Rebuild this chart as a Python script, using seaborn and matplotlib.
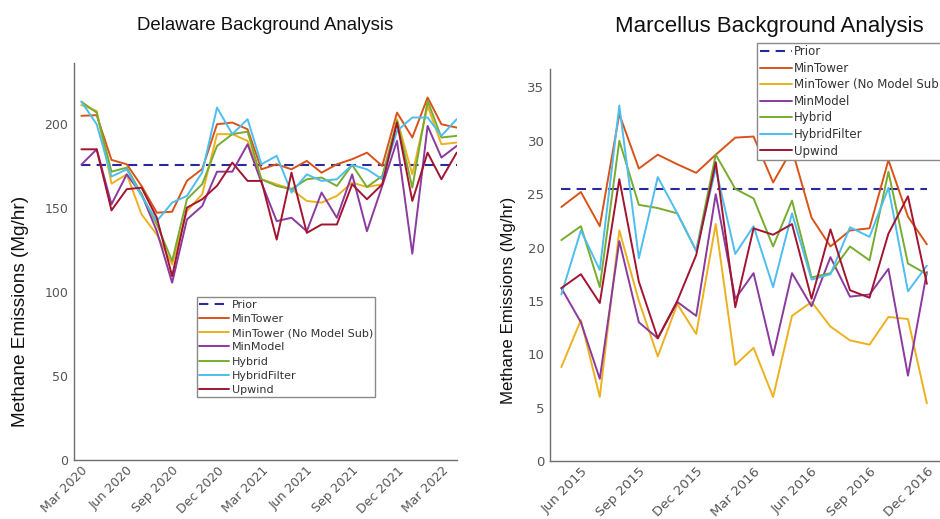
import matplotlib
matplotlib.use("Agg")
import matplotlib.pyplot as plt
import matplotlib.dates as mdates
import pandas as pd
import seaborn as sns

# ---- series definitions ----
series_names = ["MinTower", "MinTower (No Model Sub)", "MinModel",
                "Hybrid", "HybridFilter", "Upwind"]
series_colors = ["#D95319", "#EDB120", "#8B3A9E", "#77AC30", "#4DBEEE", "#A2142F"]
prior_color = "#2A2A9C"

# ---- Delaware basin (monthly, Mar 2020 - Apr 2022), Mg/hr ----
del_months = pd.date_range("2020-03-01", "2022-04-01", freq="MS")
del_prior = 175.6
del_mintower = [204.6, 205.0, 178.4, 175.8, 162.9, 147.0, 147.6, 166.0, 173.0, 199.6,
                200.6, 196.6, 172.8, 175.8, 172.8, 177.8, 170.8, 175.8, 178.8, 182.7,
                174.8, 206.5, 191.7, 215.5, 199.6, 197.6]
del_nomodel = [211.0, 207.5, 164.3, 169.8, 146.0, 134.0, 116.3, 148.0, 158.0, 193.7,
               193.7, 189.7, 166.9, 163.9, 161.0, 154.0, 153.0, 157.0, 164.9, 162.3,
               163.9, 202.6, 169.8, 210.5, 187.7, 188.7]
del_minmodel = [175.6, 184.7, 152.0, 169.8, 158.0, 136.0, 105.4, 143.0, 151.0, 171.4,
                171.4, 187.7, 165.0, 142.0, 144.0, 136.0, 159.0, 144.0, 169.8, 136.0,
                162.9, 189.7, 122.6, 198.6, 179.8, 186.7]
del_hybrid = [213.0, 206.5, 171.4, 173.8, 158.0, 140.0, 118.3, 155.0, 164.0, 186.7,
              193.7, 195.2, 166.9, 162.9, 161.0, 166.9, 167.9, 162.9, 175.4, 162.3,
              168.8, 201.6, 161.9, 213.5, 191.7, 192.7]
del_filter = [213.0, 199.6, 168.5, 172.8, 157.0, 142.0, 153.0, 157.0, 171.0, 209.5,
              193.7, 202.6, 175.8, 180.8, 159.0, 169.8, 165.9, 166.9, 175.4, 172.8,
              166.9, 195.6, 203.6, 203.6, 192.7, 202.6]
del_upwind = [184.7, 184.7, 148.4, 161.0, 161.9, 144.0, 109.3, 150.0, 155.0, 163.0,
              176.8, 165.9, 165.9, 131.0, 170.8, 135.0, 140.0, 140.0, 163.9, 155.0,
              163.9, 200.6, 154.0, 182.7, 166.9, 182.7]

# ---- Marcellus basin (monthly, May 2015 - Dec 2016), Mg/hr ----
mar_months = pd.date_range("2015-05-01", "2016-12-01", freq="MS")
mar_prior = 25.5
mar_mintower = [23.8, 25.2, 22.0, 32.5, 27.4, 28.7, 27.8, 27.0, 28.7, 30.3,
                30.4, 26.1, 29.2, 22.8, 20.1, 21.6, 21.8, 28.2, 22.9, 20.3]
mar_nomodel = [8.8, 13.2, 6.0, 21.6, 15.0, 9.8, 14.7, 11.9, 22.2, 9.0,
               10.6, 6.0, 13.6, 14.9, 12.6, 11.3, 10.9, 13.5, 13.3, 5.4]
mar_minmodel = [16.2, 13.0, 7.7, 20.6, 13.0, 11.5, 14.9, 13.6, 25.0, 15.2,
                17.6, 9.9, 17.6, 14.5, 19.1, 15.4, 15.6, 18.0, 8.0, 17.7]
mar_hybrid = [20.7, 22.0, 16.3, 30.0, 24.0, 23.7, 23.2, 19.7, 28.7, 25.5,
              24.6, 20.1, 24.4, 17.2, 17.6, 20.1, 18.8, 27.1, 18.5, 17.5]
mar_filter = [15.6, 21.6, 17.9, 33.3, 19.0, 26.6, 23.2, 19.7, 27.4, 19.4,
              22.0, 16.3, 23.2, 17.0, 17.5, 21.9, 21.0, 25.6, 15.9, 18.3]
mar_upwind = [16.2, 17.5, 14.8, 26.4, 16.8, 11.5, 15.0, 19.3, 28.0, 14.4,
              21.8, 21.2, 22.2, 15.2, 21.7, 16.0, 15.3, 21.3, 24.8, 16.6]

sns.set_theme(style="white")
plt.rcParams["font.family"] = ["DejaVu Sans"]

AXIS_GREY = "#6e6e6e"
TICK_GREY = "#555555"
TITLE_FONT = ["Liberation Sans", "DejaVu Sans"]

fig = plt.figure(figsize=(9.4, 5.19), dpi=100)
W, H = 940.0, 519.0


def add_axes_px(left, top, right, bottom):
    return fig.add_axes([left / W, 1 - bottom / H, (right - left) / W, (bottom - top) / H])


def draw_panel(ax, months, prior, values, title, xlim, ylim, yticks, *,
               title_size, title_pad, label_size, label_xy, tick_size,
               legend_size, legend_spacing, legend_anchor):
    ax.plot([months[0], months[-1]], [prior, prior], color=prior_color,
            lw=1.5, ls=(0, (4.5, 3.0)), label="Prior")
    for name, color, vals in zip(series_names, series_colors, values):
        sns.lineplot(x=months, y=vals, ax=ax, color=color, lw=1.4, label=name)

    ax.set_xlim(pd.Timestamp(xlim[0]), pd.Timestamp(xlim[1]))
    ax.set_ylim(*ylim)
    ax.set_yticks(yticks)
    ax.xaxis.set_major_locator(mdates.MonthLocator(bymonth=[3, 6, 9, 12]))
    ax.xaxis.set_major_formatter(mdates.DateFormatter("%b %Y"))

    for side in ("top", "right"):
        ax.spines[side].set_visible(False)
    for side in ("left", "bottom"):
        ax.spines[side].set_color(AXIS_GREY)
        ax.spines[side].set_linewidth(1.0)
    ax.tick_params(axis="both", direction="in", length=4, width=0.9,
                   color=AXIS_GREY, labelcolor=TICK_GREY, labelsize=tick_size, pad=4)
    ax.tick_params(axis="x", pad=3)
    for lbl in ax.get_xticklabels():
        lbl.set_rotation(45)
        lbl.set_ha("right")
        lbl.set_rotation_mode("anchor")

    ax.set_xlabel("")
    ax.set_ylabel("Methane Emissions (Mg/hr)", fontsize=label_size,
                  family=TITLE_FONT, color="#111111")
    ax.yaxis.set_label_coords(*label_xy)
    ax.set_title(title, fontsize=title_size, family=TITLE_FONT, color="#111111",
                 pad=title_pad)

    handles, labels = ax.get_legend_handles_labels()
    leg = ax.legend(handles, labels, loc="upper left", bbox_to_anchor=legend_anchor,
                    frameon=True, fancybox=False, edgecolor="#8a8a8a",
                    facecolor="white", framealpha=1.0, fontsize=legend_size,
                    labelspacing=legend_spacing, handlelength=2.7, handletextpad=0.2,
                    borderpad=0.22, borderaxespad=0.0)
    leg.get_frame().set_linewidth(1.0)
    for t in leg.get_texts():
        t.set_color("#333333")


# Delaware panel
ax1 = add_axes_px(74, 63, 456.7, 460)
draw_panel(ax1, del_months, del_prior,
           [del_mintower, del_nomodel, del_minmodel, del_hybrid, del_filter, del_upwind],
           "Delaware Background Analysis",
           ("2020-02-15", "2022-04-01"), (0, 236), [0, 50, 100, 150, 200],
           title_size=13.4, title_pad=24, label_size=13.7, label_xy=(-0.118, 0.375),
           tick_size=9, legend_size=8, legend_spacing=0.38,
           legend_anchor=(0.321, 0.41))

# Marcellus panel (extends past the right edge of the canvas)
ax2 = add_axes_px(550, 69.3, 988, 461)
draw_panel(ax2, mar_months, mar_prior,
           [mar_mintower, mar_nomodel, mar_minmodel, mar_hybrid, mar_filter, mar_upwind],
           "Marcellus Background Analysis",
           ("2015-04-13", "2017-03-08"), (0, 36.7), [0, 5, 10, 15, 20, 25, 30, 35],
           title_size=16, title_pad=27, label_size=12.2, label_xy=(-0.077, 0.411),
           tick_size=9.5, legend_size=8.5, legend_spacing=0.3,
           legend_anchor=(0.473, 1.068))

fig.savefig("out.png", dpi=100)
